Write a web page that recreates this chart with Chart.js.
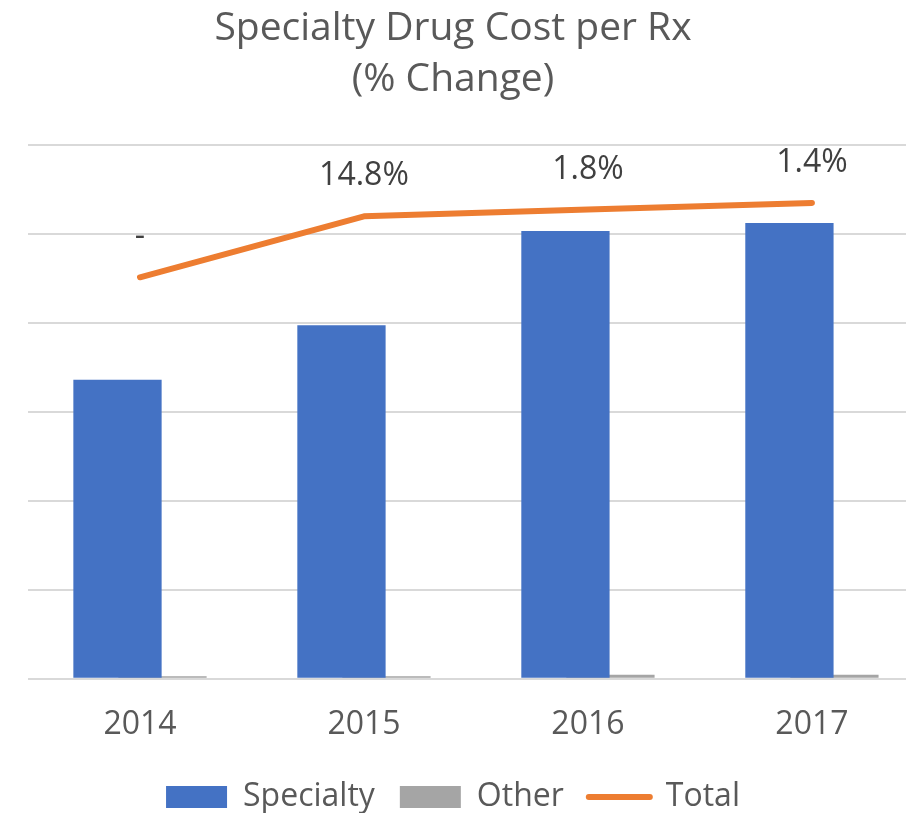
<!DOCTYPE html>
<html>
<head>
<meta charset="utf-8">
<script src="https://cdn.jsdelivr.net/npm/chart.js@4/dist/chart.umd.min.js"></script>
<style>
  html, body { margin: 0; padding: 0; background: #ffffff; overflow: hidden; }
  #wrap { width: 906px; height: 813px; position: relative; }
</style>
</head>
<body>
<div id="wrap"><canvas id="c" width="906" height="813"></canvas></div>
<script>
// ---- data ----
const categories = ['2014', '2015', '2016', '2017'];
const specialtyValues = [3.36, 3.97, 5.03, 5.12];
const otherValues = [0.03, 0.03, 0.045, 0.045];
const totalValues = [4.51, 5.195, 5.27, 5.345];
const totalLabels = ['-', '14.8%', '1.8%', '1.4%'];
const seriesNames = ['Specialty', 'Other', 'Total'];
const titleLines = ['Specialty Drug Cost per Rx', '(% Change)'];

const FONT = '"Open Sans", "Noto Sans", sans-serif';
const TEXT = '#595959';

const toPoints = (vals) => vals.map((v, i) => ({ x: i, y: v }));

const pointLabels = {
  id: 'pointLabels',
  afterDatasetsDraw(chart) {
    const meta = chart.getDatasetMeta(2);
    const ctx = chart.ctx;
    ctx.save();
    ctx.font = '32px ' + FONT;
    ctx.fillStyle = '#404040';
    ctx.textAlign = 'center';
    ctx.textBaseline = 'middle';
    meta.data.forEach((pt, i) => {
      ctx.fillText(totalLabels[i], pt.x, pt.y - 40);
    });
    ctx.restore();
  }
};

new Chart(document.getElementById('c'), {
  type: 'bar',
  data: {
    datasets: [
      {
        type: 'bar',
        label: seriesNames[0],
        data: toPoints(specialtyValues),
        backgroundColor: '#4472C4',
        borderWidth: 0,
        order: 1,
        categoryPercentage: 0.4018,
        barPercentage: 1.962
      },
      {
        type: 'bar',
        label: seriesNames[1],
        data: toPoints(otherValues),
        backgroundColor: '#A5A5A5',
        borderWidth: 0,
        order: 2,
        categoryPercentage: 0.4018,
        barPercentage: 1.962
      },
      {
        type: 'line',
        label: seriesNames[2],
        data: toPoints(totalValues),
        borderColor: '#ED7D31',
        backgroundColor: '#ED7D31',
        borderWidth: 6,
        borderCapStyle: 'round',
        borderJoinStyle: 'round',
        pointRadius: 0,
        pointHoverRadius: 0,
        tension: 0,
        fill: false,
        order: 0
      }
    ]
  },
  options: {
    responsive: false,
    animation: false,
    events: [],
    layout: { padding: { left: 0, right: 0, top: 0, bottom: -10 } },
    scales: {
      x: {
        type: 'linear',
        offset: false,
        min: -0.5,
        max: 3.42,
        afterBuildTicks: (axis) => { axis.ticks = categories.map((_, i) => ({ value: i })); },
        afterFit: (scale) => { scale.height -= 15.2; },
        ticks: {
          callback: (v) => categories[v] !== undefined ? categories[v] : '',
          font: { family: FONT, size: 32 },
          color: TEXT,
          padding: 27,
          maxRotation: 0,
          autoSkip: false
        },
        grid: { display: false, drawTicks: false, offset: false },
        border: { display: false }
      },
      y: {
        min: 0,
        max: 6,
        ticks: { display: false, stepSize: 1 },
        afterFit: (scale) => { scale.width = 28; },
        grid: { color: '#D9D9D9', lineWidth: 2, drawTicks: false },
        border: { display: false }
      }
    },
    plugins: {
      title: {
        display: true,
        text: titleLines,
        color: TEXT,
        font: { family: FONT, size: 39, weight: 'normal', lineHeight: 1.29 },
        padding: { top: 4, bottom: 40 }
      },
      legend: {
        display: true,
        position: 'bottom',
        labels: {
          usePointStyle: true,
          pointStyleWidth: 61,
          boxHeight: 22,
          padding: 25,
          color: TEXT,
          font: { family: FONT, size: 32 },
          sort: (a, b) => a.datasetIndex - b.datasetIndex,
          generateLabels: (chart) => {
            const items = Chart.defaults.plugins.legend.labels.generateLabels(chart);
            items.forEach((it) => {
              if (it.datasetIndex === 2) {
                it.pointStyle = 'line';
                it.lineWidth = 6;
                it.lineCap = 'round';
                it.strokeStyle = '#ED7D31';
              } else {
                it.pointStyle = 'rect';
                it.lineWidth = 0;
              }
            });
            return items;
          }
        }
      },
      tooltip: { enabled: false }
    }
  },
  plugins: [pointLabels]
});
</script>
</body>
</html>
